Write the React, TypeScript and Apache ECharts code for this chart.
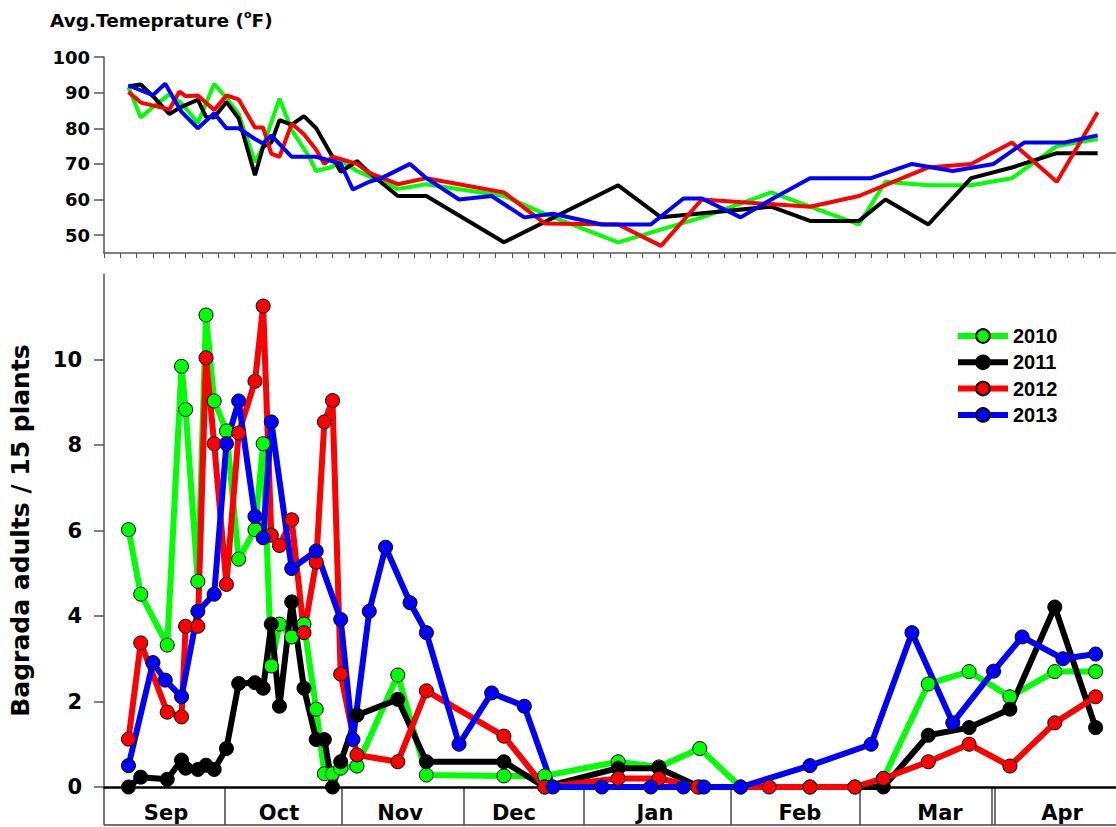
import React, { useEffect, useRef } from "react";
import * as echarts from "echarts";

// ---------- data ----------
const YEARS = ["2010", "2011", "2012", "2013"];
const COLORS = ["#00ff00", "#000000", "#ff0000", "#0000ff"];

// x values are days counted from 1 September
// Average temperature (°F)
const T_DAY_2010 = [6, 9, 12, 16, 19, 23, 27, 30, 33, 37, 39, 43, 46, 50, 52, 56, 58, 62, 65, 72, 79, 98, 108, 126, 146.5, 163.5, 185, 191.5, 202, 212.5, 222.5, 233.5, 243.5];
const T_2010 = [91.5, 83, 86, 89.5, 87, 81.5, 92.5, 88.5, 84, 70.5, 75, 88.3, 79.5, 72.5, 68, 69.2, 71, 68, 66.5, 63, 64.3, 61, 56, 48, 55, 62, 53, 65, 64, 64, 66, 75, 77];

const T_DAY_2011 = [6, 9, 12, 16, 19, 23, 25, 27, 30, 33, 37, 39, 41, 43, 46, 49, 52, 55.5, 58, 62, 65, 72, 79, 98, 126, 136.5, 163.5, 173, 185, 191.5, 202, 212.5, 222.5, 233.5, 243.5];
const T_2011 = [91.8, 92.3, 89, 84, 86, 88, 83.2, 83, 87.4, 82.8, 66.8, 74.8, 76, 82.3, 81, 83.4, 80, 73, 67.8, 70.8, 67.5, 61, 61, 48, 64, 55, 58, 54, 54, 60, 53, 66, 69, 73, 73];

const T_DAY_2012 = [6, 9, 16, 18.5, 20, 23, 27, 30, 33, 37, 39, 41, 43, 46, 49, 52, 54, 56, 62, 65, 72, 79, 98, 108, 126, 136.5, 146.5, 173, 185, 202, 212.5, 222.5, 233.5, 243.5];
const T_2012 = [90.2, 87.2, 85.3, 90.3, 89, 89.2, 85.1, 89.2, 88.1, 80.2, 80.2, 72.9, 72, 81.3, 78.3, 74, 70, 72, 70, 67.5, 64.3, 66, 62, 53.3, 53, 47, 60, 58, 61, 69, 70, 76, 65, 84.5];

const T_DAY_2013 = [6, 12, 15, 19, 23, 27, 30, 33, 37, 39, 41, 46, 52, 58, 61, 65, 68, 75, 79, 87, 95, 103, 110, 122, 134, 142, 146.5, 156, 163.5, 173, 188, 198, 208, 218, 225.5, 235.5, 243.5];
const T_2013 = [92, 89.3, 92.5, 84.6, 80, 84.2, 80, 80, 77, 75.7, 78, 72, 72, 70.1, 62.8, 65, 66, 70, 66, 60, 61, 55, 56, 53, 53, 60.3, 60.3, 55, 60, 66, 66, 70, 68, 70, 76, 76, 78];

// Bagrada adults / 15 plants
const B_DAY_2010 = [6, 9, 15.5, 19, 20, 23, 25, 27, 30, 33, 37, 39, 41, 43, 46, 49, 52, 54, 56, 58, 62, 72, 79, 98, 108, 126, 136, 146, 156, 173, 184, 191, 202, 212, 222, 233, 243];
const B_2010 = [6.02, 4.51, 3.32, 9.84, 8.83, 4.81, 11.04, 9.03, 8.33, 5.33, 6.02, 8.03, 2.83, 3.81, 3.51, 3.81, 1.82, 0.31, 0.31, 0.44, 0.49, 2.62, 0.28, 0.26, 0.26, 0.59, 0.47, 0.9, 0, 0, 0, 0.2, 2.41, 2.7, 2.11, 2.7, 2.7];

const B_DAY_2011 = [6, 9, 15.5, 19, 20, 23, 25, 27, 30, 33, 37, 39, 41, 43, 46, 49, 52, 54, 56, 58, 62, 72, 79, 98, 108, 126, 136, 146, 191, 202, 212, 222, 233, 243];
const B_2011 = [0, 0.23, 0.18, 0.63, 0.44, 0.41, 0.51, 0.41, 0.9, 2.42, 2.44, 2.31, 3.81, 1.89, 4.33, 2.31, 1.11, 1.11, 0, 0.59, 1.68, 2.05, 0.59, 0.59, 0, 0.44, 0.44, 0, 0, 1.21, 1.39, 1.82, 4.21, 1.39];

const B_DAY_2012 = [6, 9, 15.5, 19, 20, 23, 25, 27, 30, 33, 37, 39, 41, 43, 46, 49, 52, 54, 56, 58, 62, 72, 79, 98, 108, 126, 136, 145.5, 163, 173, 184, 191, 202, 212, 222, 233, 243];
const B_2012 = [1.12, 3.37, 1.75, 1.64, 3.76, 3.76, 10.04, 8.03, 4.74, 8.28, 9.49, 11.25, 5.89, 5.65, 6.25, 3.61, 5.26, 8.54, 9.04, 2.64, 0.75, 0.59, 2.25, 1.19, 0, 0.2, 0.2, 0, 0, 0, 0, 0.2, 0.59, 1.0, 0.49, 1.5, 2.11];

const B_DAY_2013 = [6, 12, 15, 19, 23, 27, 30, 33, 37, 39, 41, 46, 52, 58, 61, 65, 69, 75, 79, 87, 95, 103, 110, 122, 134, 142, 147, 156, 173, 188, 198, 208, 218, 225, 235, 243];
const B_2013 = [0.5, 2.91, 2.5, 2.11, 4.11, 4.51, 8.03, 9.03, 6.33, 5.83, 8.54, 5.11, 5.52, 3.92, 1.11, 4.11, 5.61, 4.31, 3.61, 1.0, 2.2, 1.89, 0, 0, 0, 0, 0, 0, 0.5, 1.0, 3.61, 1.5, 2.71, 3.51, 3.0, 3.11];

const TEMP_TICKS = [50, 60, 70, 80, 90, 100];
const ADULT_TICKS = [0, 2, 4, 6, 8, 10];
const MONTHS = ["Sep", "Oct", "Nov", "Dec", "Jan", "Feb", "Mar", "Apr"];

// ---------- layout / style ----------
const FONT = "'DejaVu Sans', sans-serif";
const LEGEND_FONT = "'Liberation Sans', Arial, sans-serif";
const X_MAX = 248;
const DAY_TICKS = Array.from({ length: 62 }, (_, i) => i * 4);
const MONTH_LABEL_X = [166, 279, 400, 514, 655, 800, 940, 1062];
const MONTH_EDGE_X = [104, 225, 342, 464, 584, 731, 860, 992, 995];

const zip = (xs: number[], ys: number[]) => xs.map((x, i) => [x, ys[i]]);

const T_SETS = [
  [T_DAY_2010, T_2010],
  [T_DAY_2011, T_2011],
  [T_DAY_2012, T_2012],
  [T_DAY_2013, T_2013],
];
const B_SETS = [
  [B_DAY_2010, B_2010],
  [B_DAY_2011, B_2011],
  [B_DAY_2012, B_2012],
  [B_DAY_2013, B_2013],
];

function buildOption() {
  const series: any[] = [];
  T_SETS.forEach(([xs, ys], i) => {
    series.push({
      type: "line",
      name: "T" + YEARS[i],
      xAxisIndex: 0,
      yAxisIndex: 0,
      data: zip(xs, ys),
      symbol: "none",
      lineStyle: { color: COLORS[i], width: 4 },
      itemStyle: { color: COLORS[i] },
      silent: true,
    });
  });
  B_SETS.forEach(([xs, ys], i) => {
    const isBlack = i === 1;
    series.push({
      type: "line",
      name: YEARS[i],
      xAxisIndex: 1,
      yAxisIndex: 1,
      data: zip(xs, ys),
      symbol: "circle",
      symbolSize: 14,
      showSymbol: true,
      lineStyle: { color: COLORS[i], width: 6 },
      itemStyle: { color: COLORS[i], borderColor: "#000", borderWidth: 1 },
      silent: true,
    });
    if (!isBlack) {
      series.push({
        type: "scatter",
        name: "dot" + YEARS[i],
        xAxisIndex: 1,
        yAxisIndex: 1,
        data: zip(xs, ys),
        symbol: "circle",
        symbolSize: 2.5,
        itemStyle: { color: "#000" },
        silent: true,
      });
    }
  });

  const graphic: any[] = [
    {
      type: "text",
      left: 50,
      top: 9,
      style: {
        text: "{a|Avg.Temeprature (}{s|o}{a|F)}",
        rich: {
          a: { fontFamily: FONT, fontWeight: "bold", fontSize: 18.5, lineHeight: 22, fill: "#000", color: "#000" },
          s: { fontFamily: FONT, fontWeight: "bold", fontSize: 11, lineHeight: 12, verticalAlign: "top", fill: "#000", color: "#000" },
        },
      },
    },
    {
      type: "line",
      shape: { x1: 104, y1: 825, x2: 1116, y2: 825 },
      style: { stroke: "#444", lineWidth: 1.5 },
    },
  ];
  MONTH_EDGE_X.forEach((x) => {
    graphic.push({
      type: "line",
      shape: { x1: x, y1: 787, x2: x, y2: 825 },
      style: { stroke: "#444", lineWidth: 1.5 },
    });
  });
  MONTHS.forEach((m, i) => {
    graphic.push({
      type: "text",
      x: MONTH_LABEL_X[i],
      y: 813,
      style: {
        text: m,
        align: "center",
        verticalAlign: "middle",
        fontFamily: FONT,
        fontWeight: "bold",
        fontSize: 21,
        fill: "#000",
      },
    });
  });

  return {
    animation: false,
    backgroundColor: "#fff",
    grid: [
      { left: 104, top: 57, width: 1012, height: 196 },
      { left: 104, top: 274, width: 1012, height: 513 },
    ],
    xAxis: [
      {
        gridIndex: 0,
        type: "value",
        min: 0,
        max: X_MAX,
        axisLine: { show: true, onZero: false, lineStyle: { color: "#555", width: 1.5 } },
        axisTick: { show: true, customValues: DAY_TICKS, length: 5, lineStyle: { color: "#555", width: 1 } },
        axisLabel: { show: false },
        splitLine: { show: false },
      },
      {
        gridIndex: 1,
        type: "value",
        min: 0,
        max: X_MAX,
        axisLine: { show: true, onZero: false, lineStyle: { color: "#000", width: 2.5 } },
        axisTick: { show: false },
        axisLabel: { show: false },
        splitLine: { show: false },
      },
    ],
    yAxis: [
      {
        gridIndex: 0,
        type: "value",
        min: 45,
        max: 100,
        axisLine: { show: true, lineStyle: { color: "#555", width: 1.5 } },
        axisTick: { show: true, customValues: TEMP_TICKS, length: 10, lineStyle: { color: "#555", width: 1.5 } },
        axisLabel: {
          customValues: TEMP_TICKS,
          margin: 14,
          fontFamily: FONT,
          fontWeight: "bold",
          fontSize: 18,
          color: "#000",
        },
        splitLine: { show: false },
      },
      {
        gridIndex: 1,
        type: "value",
        min: 0,
        max: 12,
        interval: 2,
        name: "Bagrada adults / 15 plants",
        nameLocation: "middle",
        nameRotate: 90,
        nameGap: 71,
        nameTextStyle: { fontFamily: FONT, fontWeight: "bold", fontSize: 25, color: "#000" },
        axisLine: { show: true, lineStyle: { color: "#555", width: 1.5 } },
        axisTick: { show: true, customValues: ADULT_TICKS, length: 10, lineStyle: { color: "#555", width: 1.5 } },
        axisLabel: {
          customValues: ADULT_TICKS,
          margin: 22,
          fontFamily: FONT,
          fontWeight: "bold",
          fontSize: 21,
          color: "#000",
        },
        splitLine: { show: false },
      },
    ],
    legend: {
      data: YEARS,
      orient: "vertical",
      left: 950,
      top: 321,
      itemWidth: 50,
      itemHeight: 17,
      itemGap: 6.3,
      selectedMode: false,
      lineStyle: { width: 6 },
      textStyle: {
        fontFamily: LEGEND_FONT,
        fontWeight: "bold",
        fontSize: 20,
        lineHeight: 17,
        color: "#000",
      },
    },
    series,
    graphic,
  };
}

export default function App() {
  const ref = useRef<HTMLDivElement>(null);
  useEffect(() => {
    if (!ref.current) return;
    const chart = echarts.init(ref.current, null, { renderer: "svg" });
    chart.setOption(buildOption() as any);
    return () => chart.dispose();
  }, []);
  return (
    <div
      ref={ref}
      style={{ position: "fixed", left: 0, top: 0, width: 1116, height: 827, background: "#fff" }}
    />
  );
}
